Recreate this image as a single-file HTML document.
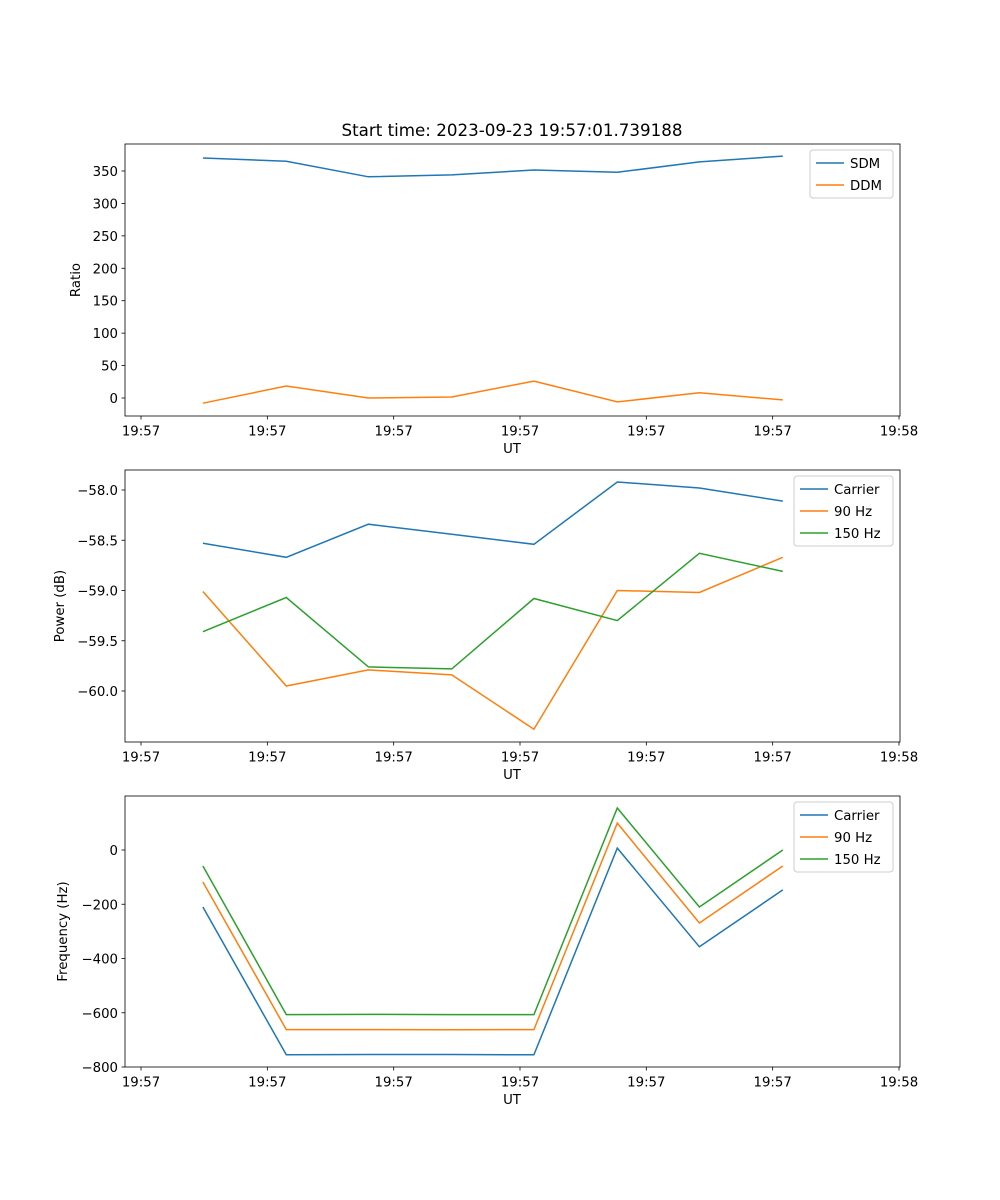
<!DOCTYPE html>
<html><head><meta charset="utf-8"><style>
body{margin:0;background:#fff}
svg{display:block;font-family:"DejaVu Sans","Liberation Sans",sans-serif}
</style></head><body>
<svg id="fig" width="1000" height="1200" viewBox="0 0 1000 1200">
<rect width="1000" height="1200" fill="#fff"/>
<text x="512" y="136" font-size="16.7" text-anchor="middle">Start time: 2023-09-23 19:57:01.739188</text>
</svg>
<script>
const times = [4.9, 11.5, 18.0, 24.6, 31.1, 37.7, 44.2, 50.8];
const xTickVals = [0, 10, 20, 30, 40, 50, 60];
const xTickLabels = ["19:57","19:57","19:57","19:57","19:57","19:57","19:58"];
const sdm = [370, 365, 341, 344, 351.5, 348, 364, 373];
const ddm = [-8, 18.5, 0, 1.5, 26, -6, 8, -3];
const powCarrier = [-58.53, -58.67, -58.34, -58.44, -58.54, -57.92, -57.98, -58.11];
const pow90 = [-59.01, -59.95, -59.79, -59.84, -60.38, -59.0, -59.02, -58.67];
const pow150 = [-59.41, -59.07, -59.76, -59.78, -59.08, -59.30, -58.63, -58.81];
const freqCarrier = [-210, -755, -754, -754, -755, 7, -357, -147];
const freq90 = [-118, -662, -662, -663, -662, 99, -269, -59];
const freq150 = [-59, -607, -606, -607, -607, 155, -210, 0];
const ratioTicks = [0, 50, 100, 150, 200, 250, 300, 350];
const powTicks = [-58.0, -58.5, -59.0, -59.5, -60.0];
const powTickLabels = ["\u221258.0","\u221258.5","\u221259.0","\u221259.5","\u221260.0"];
const freqTicks = [0, -200, -400, -600, -800];
const freqTickLabels = ["0","\u2212200","\u2212400","\u2212600","\u2212800"];

const svg = document.getElementById('fig');
const NS = 'http://www.w3.org/2000/svg';
function mk(tag, attrs, parent){const e=document.createElementNS(NS,tag);for(const k in attrs)e.setAttribute(k,attrs[k]);(parent||svg).appendChild(e);return e;}
const L=125,R=900,FS=13.3;
const xScale = t => 141 + (t-0)*(899-141)/60;

function panel(name, top, bottom, yv0, yp0, yv1, yp1, yTicks, yLabels, ylabel, series, legend){
  const g = mk('g',{});
  
  
  const y = v => yp0 + (v-yv0)*(yp1-yp0)/(yv1-yv0);
  series.forEach(s=>{
    const p = mk('polyline',{points:s.vals.map((v,i)=>xScale(times[i]).toFixed(1)+','+y(v).toFixed(1)).join(' '),fill:'none',stroke:s.color,'stroke-width':1.5},g);
    
    
  });
  mk('rect',{x:L,y:top,width:R-L,height:bottom-top,fill:'none',stroke:'#000','stroke-width':0.8},g);
  xTickVals.forEach((t,i)=>{
    const x=xScale(t);
    mk('line',{x1:x,x2:x,y1:bottom,y2:bottom+3.5,stroke:'#000','stroke-width':0.8},g);
    const tx=mk('text',{x:x,y:bottom+19.5,'font-size':FS,'text-anchor':'middle'},g);
    tx.textContent=xTickLabels[i];
    
    
  });
  yTicks.forEach((v,i)=>{
    const yy=y(v);
    mk('line',{x1:L-3.5,x2:L,y1:yy,y2:yy,stroke:'#000','stroke-width':0.8},g);
    const tx=mk('text',{x:L-7,y:yy+5,'font-size':FS,'text-anchor':'end'},g);
    tx.textContent=yLabels?yLabels[i]:String(v);
    
    
  });
  const xl=mk('text',{x:512,y:bottom+37,'font-size':FS,'text-anchor':'middle'},g);
  xl.textContent='UT';
  
  
  const cy=(top+bottom)/2, lx=legend.ylx;
  const yl=mk('text',{x:lx,y:cy,'font-size':FS,'text-anchor':'middle',transform:`rotate(-90 ${lx} ${cy})`},g);
  yl.textContent=ylabel;
  
  
  const lg=mk('g',{},g);
  
  
  mk('rect',{x:legend.x,y:top+6,width:R-7-legend.x,height:series.length*22+4,rx:3,fill:'#fff','fill-opacity':0.8,stroke:'#ccc','stroke-width':1},lg);
  series.forEach((s,i)=>{
    const yy=top+6+13+i*22;
    mk('line',{x1:legend.x+6,x2:legend.x+34,y1:yy,y2:yy,stroke:s.color,'stroke-width':1.5},lg);
    const t=mk('text',{x:legend.x+40,y:yy+5,'font-size':FS},lg);
    t.textContent=s.label;
    
    
  });
}
panel('ratio-panel',144,416,0,398,350,171,ratioTicks,null,'Ratio',
  [{id:'sdm-line',label:'SDM',color:'#1f77b4',vals:sdm},{id:'ddm-line',label:'DDM',color:'#ff7f0e',vals:ddm}],{x:810,ylx:80});
panel('power-panel',470,742,-58.0,490,-60.0,691,powTicks,powTickLabels,'Power (dB)',
  [{id:'power-carrier-line',label:'Carrier',color:'#1f77b4',vals:powCarrier},{id:'power-90hz-line',label:'90 Hz',color:'#ff7f0e',vals:pow90},{id:'power-150hz-line',label:'150 Hz',color:'#2ca02c',vals:pow150}],{x:794,ylx:64});
panel('frequency-panel',796,1067,0,850,-800,1067,freqTicks,freqTickLabels,'Frequency (Hz)',
  [{id:'freq-carrier-line',label:'Carrier',color:'#1f77b4',vals:freqCarrier},{id:'freq-90hz-line',label:'90 Hz',color:'#ff7f0e',vals:freq90},{id:'freq-150hz-line',label:'150 Hz',color:'#2ca02c',vals:freq150}],{x:794,ylx:67});
</script>
</body></html>
